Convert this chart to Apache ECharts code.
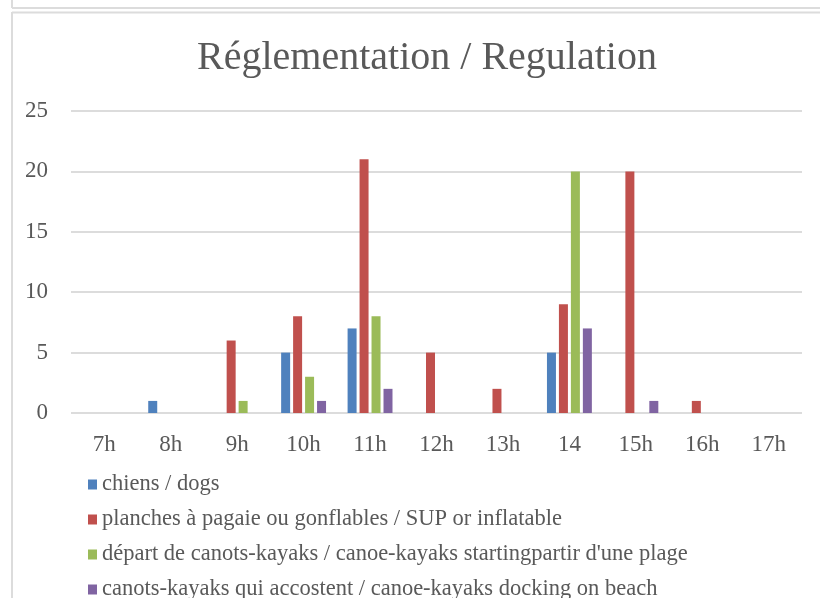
<!DOCTYPE html>
<html>
<head>
<meta charset="utf-8">
<script src="https://cdn.jsdelivr.net/npm/echarts@6/dist/echarts.min.js"></script>
<style>
  html, body { margin: 0; padding: 0; background: #fff; }
  #chart { width: 820px; height: 598px; }
</style>
</head>
<body>
<div id="chart"></div>
<script>
// categories (hours)
var hours = ['7h', '8h', '9h', '10h', '11h', '12h', '13h', '14', '15h', '16h', '17h'];

// series values
var chiens   = [0, 1, 0, 5, 7, 0, 0, 5, 0, 0, 0];
var planches = [0, 0, 6, 8, 21, 5, 2, 9, 20, 1, 0];
var depart   = [0, 0, 1, 3, 8, 0, 0, 20, 0, 0, 0];
var canots   = [0, 0, 0, 1, 2, 0, 0, 7, 1, 0, 0];

var names = [
  'chiens / dogs',
  'planches à pagaie ou gonflables / SUP or inflatable',
  "départ de canots-kayaks / canoe-kayaks startingpartir d'une plage",
  'canots-kayaks qui accostent / canoe-kayaks docking on beach'
];
var colors = ['#4F81BD', '#C0504D', '#9BBB59', '#8064A2'];

var font = 'Liberation Serif';
var txt = '#595959';
var border = '#dcdcdc';

var myChart = echarts.init(document.getElementById('chart'));

function bar(i, data) {
  return {
    name: names[i],
    type: 'bar',
    data: data,
    barWidth: 9,
    barGap: '33%',
    itemStyle: { color: colors[i] }
  };
}

// one legend per row so the list never wraps into a second column
function legendRow(i) {
  return {
    left: 83,
    top: 468 + i * 35,
    itemWidth: 9,
    itemHeight: 10,
    icon: 'rect',
    textStyle: { fontFamily: font, fontSize: 22.5, color: txt },
    data: [names[i]]
  };
}

myChart.setOption({
  animation: false,
  textStyle: { fontFamily: font },
  title: {
    text: 'Réglementation / Regulation',
    left: 192,
    top: 33,
    textStyle: { fontFamily: font, fontSize: 40, fontWeight: 'normal', color: txt }
  },
  legend: [legendRow(0), legendRow(1), legendRow(2), legendRow(3)],
  grid: { left: 71, right: 18, top: 111, bottom: 185, containLabel: false },
  xAxis: {
    type: 'category',
    data: hours,
    axisLine: { show: false },
    axisTick: { show: false },
    axisLabel: { fontFamily: font, fontSize: 23, color: txt, margin: 20 }
  },
  yAxis: {
    type: 'value',
    min: 0,
    max: 25,
    interval: 5,
    axisLine: { show: false },
    axisTick: { show: false },
    axisLabel: { fontFamily: font, fontSize: 23, color: txt, margin: 23 },
    splitLine: { lineStyle: { color: border, width: 2 } }
  },
  graphic: [
    { type: 'line', shape: { x1: 12, y1: 0, x2: 12, y2: 8 }, style: { stroke: border, lineWidth: 2 } },
    { type: 'line', shape: { x1: 12, y1: 8, x2: 820, y2: 8 }, style: { stroke: border, lineWidth: 2 } },
    { type: 'line', shape: { x1: 12, y1: 12.5, x2: 820, y2: 12.5 }, style: { stroke: border, lineWidth: 2 } },
    { type: 'line', shape: { x1: 12, y1: 12, x2: 12, y2: 598 }, style: { stroke: border, lineWidth: 2 } }
  ],
  series: [
    bar(0, chiens),
    bar(1, planches),
    bar(2, depart),
    bar(3, canots)
  ]
});
</script>
</body>
</html>
